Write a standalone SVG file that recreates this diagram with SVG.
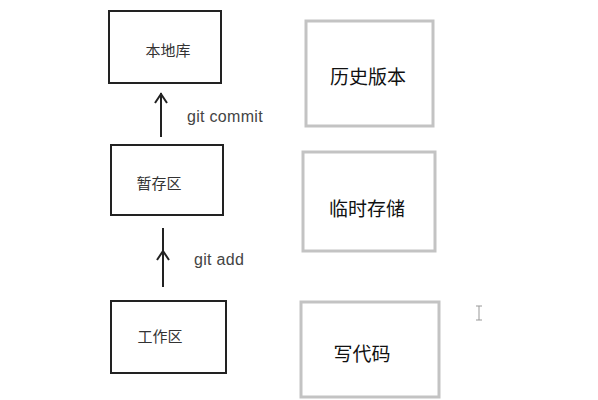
<svg xmlns="http://www.w3.org/2000/svg" width="598" height="400" viewBox="0 0 598 400">
<style>
.lbox{fill:#fff;stroke:#222;stroke-width:2}
.rbox{fill:#fff;stroke:#c3c3c3;stroke-width:3}
.ltxt{font-family:"Noto Sans CJK SC","Noto Sans",sans-serif;font-size:15px;fill:#333;text-anchor:middle;dominant-baseline:central}
.rtxt{font-family:"Noto Sans CJK SC","Noto Sans",sans-serif;font-size:19px;fill:#111;text-anchor:middle;dominant-baseline:central}
.gtxt{font-family:"Liberation Sans","Noto Sans",sans-serif;font-size:16px;fill:#444;letter-spacing:0.3px}
.ln{fill:none;stroke:#222;stroke-width:2}
</style>
<rect width="598" height="400" fill="#fff"/>
<g id="node-local-repo"><rect class="lbox" x="109" y="11" width="112" height="72"/><text class="ltxt" x="168" y="49">本地库</text></g>
<g id="node-staging"><rect class="lbox" x="111" y="145" width="112" height="70"/><text class="ltxt" x="159" y="182">暂存区</text></g>
<g id="node-workspace"><rect class="lbox" x="111" y="301" width="115" height="72"/><text class="ltxt" x="160" y="335">工作区</text></g>
<g id="node-history"><rect class="rbox" x="306" y="21" width="127" height="105"/><text class="rtxt" x="368" y="75">历史版本</text></g>
<g id="node-temp"><rect class="rbox" x="303" y="152" width="132" height="99"/><text class="rtxt" x="367" y="207">临时存储</text></g>
<g id="node-code"><rect class="rbox" x="301" y="302" width="138" height="95"/><text class="rtxt" x="362" y="352">写代码</text></g>
<g id="connectors">
<path class="ln" d="M161 93V137M155 103L161 94L167 103"/>
<text class="gtxt" x="187" y="122">git commit</text>
<path class="ln" d="M163 228V287M157 260L163 251L169 260"/>
<text class="gtxt" x="194" y="265">git add</text>
</g>
<path d="M476 306H482M479 306V320M476 320H482" stroke="#999" stroke-width="1" fill="none"/>
</svg>
